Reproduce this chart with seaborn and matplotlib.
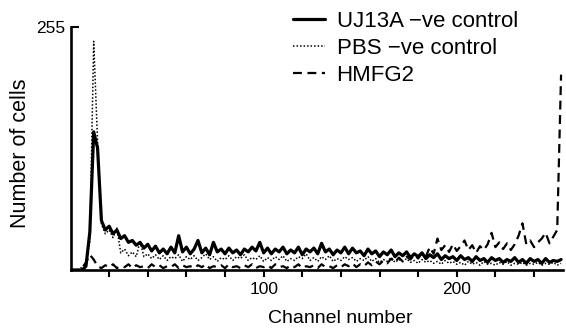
import matplotlib
matplotlib.use("Agg")
import matplotlib.pyplot as plt
import numpy as np
import seaborn as sns

# counts per channel, read every 2nd channel (0, 2, ... 254)
uj13a = [
    0, 0, 0, 0, 4, 40, 145, 128, 52, 42, 46, 38, 42, 33, 36, 29,
    31, 26, 29, 23, 27, 20, 25, 18, 22, 17, 24, 18, 36, 19, 24, 17,
    22, 31, 18, 23, 16, 29, 19, 22, 17, 23, 18, 21, 16, 22, 19, 24,
    20, 29, 18, 23, 17, 22, 19, 24, 17, 21, 18, 24, 16, 22, 19, 23,
    17, 28, 19, 22, 16, 21, 18, 24, 17, 23, 18, 20, 15, 22, 17, 20,
    14, 19, 16, 21, 14, 18, 15, 19, 13, 17, 14, 18, 12, 16, 13, 17,
    11, 15, 12, 14, 10, 15, 11, 13, 9, 14, 10, 12, 8, 13, 10, 12,
    8, 11, 9, 13, 8, 11, 7, 12, 9, 11, 7, 12, 8, 10, 9, 11,
]
pbs = [
    0, 0, 0, 3, 8, 30, 240, 135, 48, 38, 42, 34, 44, 18, 22, 15,
    19, 14, 30, 14, 17, 12, 16, 11, 15, 10, 14, 12, 16, 9, 14, 11,
    15, 10, 13, 17, 11, 14, 9, 13, 11, 15, 10, 14, 12, 16, 10, 13,
    11, 15, 9, 13, 10, 14, 11, 15, 9, 12, 10, 14, 12, 17, 10, 13,
    9, 14, 11, 15, 9, 12, 10, 14, 11, 13, 9, 12, 10, 14, 9, 12,
    8, 11, 9, 13, 8, 11, 9, 12, 8, 10, 7, 11, 8, 10, 7, 9,
    6, 10, 7, 9, 6, 8, 5, 9, 6, 8, 5, 9, 6, 7, 5, 8,
    6, 9, 5, 7, 6, 8, 5, 7, 6, 8, 5, 7, 6, 8, 5, 7,
]
hmfg2 = [
    0, 0, 0, 2, 8, 16, 11, 4, 2, 5, 3, 6, 2, 4, 3, 6,
    2, 5, 3, 4, 2, 6, 3, 5, 2, 4, 3, 6, 2, 5, 3, 4,
    2, 5, 3, 6, 2, 4, 3, 5, 2, 6, 3, 4, 2, 5, 3, 6,
    2, 4, 3, 5, 2, 6, 3, 4, 2, 5, 3, 6, 2, 4, 3, 5,
    2, 6, 3, 4, 2, 5, 3, 6, 4, 7, 3, 6, 4, 8, 5, 9,
    6, 10, 7, 12, 8, 13, 9, 14, 11, 16, 12, 18, 14, 24, 17, 33,
    21, 26, 19, 27, 20, 25, 31, 21, 26, 18, 25, 21, 27, 39, 24, 29,
    22, 28, 21, 27, 36, 49, 27, 31, 24, 29, 33, 39, 28, 35, 42, 205,
]
channels = np.arange(len(uj13a)) * 2

labels = ["UJ13A \u2212ve control", "PBS \u2212ve control", "HMFG2"]
x_ticks = list(range(20, 241, 20))
x_ticklabels = ["100" if t == 100 else "200" if t == 200 else "" for t in x_ticks]

sns.set_style("ticks")
plt.rcParams["font.family"] = ["Liberation Sans", "DejaVu Sans"]
plt.rcParams["text.color"] = "black"
plt.rcParams["axes.labelcolor"] = "black"
plt.rcParams["xtick.color"] = "black"
plt.rcParams["ytick.color"] = "black"

fig = plt.figure(figsize=(5.66, 3.29), dpi=100)
ax = fig.add_axes([0.1246, 0.1793, 0.8701, 0.7386])

sns.lineplot(x=channels, y=uj13a, ax=ax, color="black", lw=2.3,
             linestyle="-", label=labels[0])
sns.lineplot(x=channels, y=pbs, ax=ax, color="black", lw=1.1,
             linestyle=(0, (1, 1.3)), label=labels[1])
sns.lineplot(x=channels, y=hmfg2, ax=ax, color="black", lw=1.6,
             linestyle=(0, (4, 2.5)), label=labels[2])

ax.set_xlim(0, 255)
ax.set_ylim(0, 255)

# spines
sns.despine(ax=ax)
for side in ["left", "bottom"]:
    ax.spines[side].set_linewidth(1.9)
    ax.spines[side].set_color("black")

# ticks
ax.set_xticks(x_ticks, x_ticklabels)
ax.set_yticks([255], ["255"])
ax.tick_params(axis="x", direction="out", length=5, width=1.5, pad=3.5,
               labelsize=12.5)
ax.tick_params(axis="y", direction="in", length=6, width=1.5, pad=3.5,
               labelsize=12.5)

# axis labels
ax.set_xlabel("Channel number", fontsize=14, va="baseline")
ax.xaxis.set_label_coords(0.547, -0.218)
ax.set_ylabel("Number of cells", fontsize=15.5, va="center")
ax.yaxis.set_label_coords(-0.1015, 0.479)

# legend
ax.legend(loc="upper left", bbox_to_anchor=(0.518, 0.968),
          bbox_transform=fig.transFigure, frameon=False, fontsize=16,
          handlelength=1.45, handletextpad=0.5, labelspacing=0.28,
          borderpad=0, borderaxespad=0)

fig.savefig("out.png", dpi=100)
